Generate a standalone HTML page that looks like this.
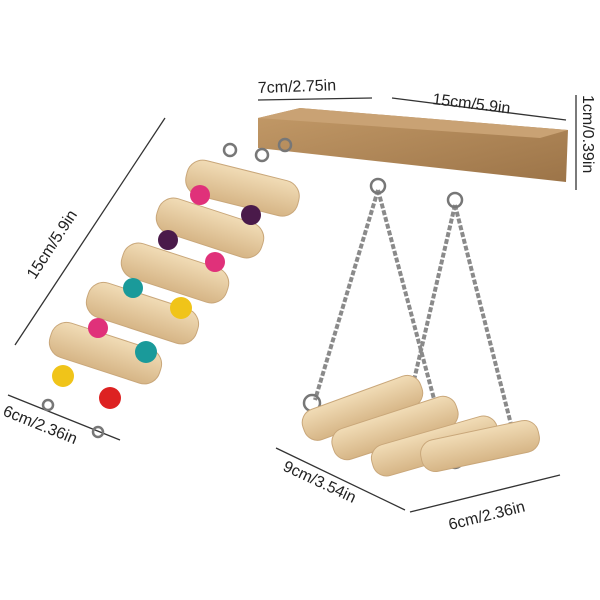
<!DOCTYPE html>
<html><head><style>body{margin:0;background:#fff}svg{display:block}</style></head>
<body>
<svg width="600" height="600" viewBox="0 0 600 600" xmlns="http://www.w3.org/2000/svg" font-family="Liberation Sans, sans-serif">
<rect width="600" height="600" fill="#fff"/>
<defs>
<linearGradient id="w" x1="0" y1="0" x2="0" y2="1"><stop offset="0" stop-color="#f1dcb6"/><stop offset="1" stop-color="#d6b586"/></linearGradient>
<linearGradient id="b" x1="0" y1="0" x2="1" y2="1"><stop offset="0" stop-color="#c39a68"/><stop offset="1" stop-color="#9c7448"/></linearGradient>
</defs>
<g stroke="#333" stroke-width="1.3" fill="none">
<line x1="258" y1="100" x2="372" y2="98"/>
<line x1="392" y1="98" x2="566" y2="120"/>
<line x1="576" y1="95" x2="576" y2="190"/>
<line x1="15" y1="345" x2="165" y2="118"/>
<line x1="8" y1="395" x2="120" y2="440"/>
<line x1="276" y1="448" x2="405" y2="510"/>
<line x1="410" y1="512" x2="560" y2="475"/>
</g>
<g fill="#222" font-size="16">
<text x="258" y="93" transform="rotate(-2 258 93)">7cm/2.75in</text>
<text x="432" y="104" transform="rotate(7 432 104)">15cm/5.9in</text>
<text x="583" y="95" transform="rotate(90 583 95)">1cm/0.39in</text>
<text x="35" y="280" transform="rotate(-57 35 280)">15cm/5.9in</text>
<text x="2" y="415" transform="rotate(22 2 415)">6cm/2.36in</text>
<text x="282" y="470" transform="rotate(25 282 470)">9cm/3.54in</text>
<text x="450" y="530" transform="rotate(-14 450 530)">6cm/2.36in</text>
</g>
<polygon points="258,118 300,108 568,130 566,182 258,148" fill="url(#b)"/>
<polygon points="258,118 300,108 568,130 540,138" fill="#c9a274"/>
<g stroke="#8a8a8a" stroke-width="4" stroke-dasharray="5 2" fill="none">
<path d="M378 190 L315 400"/><path d="M378 190 L445 440"/>
<path d="M455 205 L400 440"/><path d="M455 205 L515 440"/>
</g>
<g stroke="#777" stroke-width="2.5" fill="none">
<circle cx="378" cy="186" r="7"/><circle cx="455" cy="200" r="7"/>
<circle cx="312" cy="403" r="8"/><circle cx="455" cy="460" r="8"/><circle cx="515" cy="440" r="8"/>
<circle cx="230" cy="150" r="6"/><circle cx="262" cy="155" r="6"/><circle cx="285" cy="145" r="6"/>
<circle cx="48" cy="405" r="5"/><circle cx="98" cy="432" r="5"/>
</g>
<g fill="url(#w)" stroke="#c9a77a" stroke-width="1">
<rect x="300" y="392" width="125" height="32" rx="14" transform="rotate(-20 362 408)"/>
<rect x="330" y="412" width="130" height="32" rx="14" transform="rotate(-18 395 428)"/>
<rect x="370" y="430" width="130" height="32" rx="14" transform="rotate(-16 435 446)"/>
<rect x="420" y="430" width="120" height="32" rx="14" transform="rotate(-12 480 446)"/>
</g>
<g fill="url(#w)" stroke="#c9a77a" stroke-width="1">
<rect x="48" y="335" width="115" height="36" rx="16" transform="rotate(18 105 353)"/>
<rect x="85" y="295" width="115" height="36" rx="16" transform="rotate(18 142 313)"/>
<rect x="120" y="255" width="110" height="36" rx="16" transform="rotate(18 175 273)"/>
<rect x="155" y="210" width="110" height="36" rx="16" transform="rotate(18 210 228)"/>
<rect x="185" y="170" width="115" height="36" rx="16" transform="rotate(14 242 188)"/>
</g>
<g>
<circle cx="63" cy="376" r="11" fill="#f0c419"/><circle cx="110" cy="398" r="11" fill="#d22"/>
<circle cx="98" cy="328" r="10" fill="#e0317a"/><circle cx="146" cy="352" r="11" fill="#1a9a9a"/>
<circle cx="133" cy="288" r="10" fill="#1a9a9a"/><circle cx="181" cy="308" r="11" fill="#f0c419"/>
<circle cx="168" cy="240" r="10" fill="#4a1a4a"/><circle cx="215" cy="262" r="10" fill="#e0317a"/>
<circle cx="200" cy="195" r="10" fill="#e0317a"/><circle cx="251" cy="215" r="10" fill="#4a1a4a"/>
</g>
</svg>
</body></html>
